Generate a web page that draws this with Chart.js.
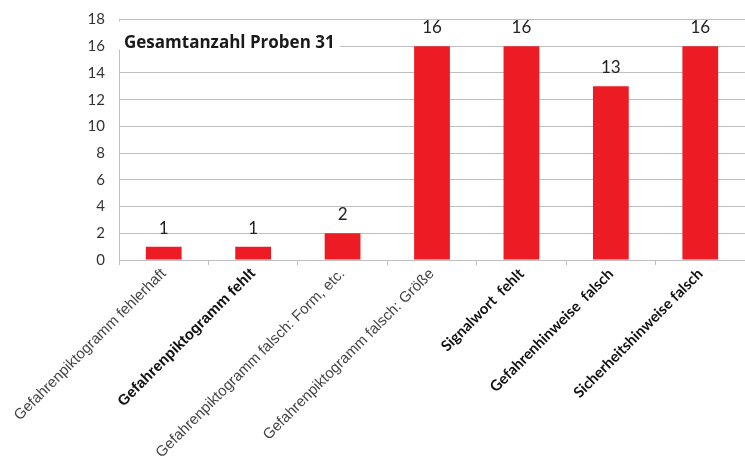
<!DOCTYPE html>
<html lang="de">
<head>
    <meta charset="UTF-8">
    <script src="https://cdn.jsdelivr.net/npm/chart.js@4.4.1/dist/chart.umd.min.js"></script>
    <title>Proben</title>
    <style>
        html, body { margin: 0; padding: 0; background: white; }
        .Chart-Container { width: 745px; height: 468px; }
    </style>
</head>
<body>
    <div class="Chart-Container">
        <canvas id="probenChart"></canvas>
    </div>
<script>
    var categories = [
        'Gefahrenpiktogramm fehlerhaft',
        'Gefahrenpiktogramm fehlt',
        'Gefahrenpiktogramm falsch: Form, etc.',
        'Gefahrenpiktogramm falsch: Größe',
        'Signalwort  fehlt',
        'Gefahrenhinweise  falsch',
        'Sicherheitshinweise falsch'
    ];
    var counts = [1, 1, 2, 16, 16, 13, 16];
    var boldLabels = [false, true, false, false, true, true, true];
    var calibriLabels = [false, false, false, false, true, true, true];
    var yTicks = [0, 2, 4, 6, 8, 10, 12, 14, 16, 18];
    var totalText = 'Gesamtanzahl Proben 31';

    var barLabels = {
        id: 'barLabels',
        afterDatasetsDraw(chart) {
            var ctx = chart.ctx;
            var meta = chart.getDatasetMeta(0);
            ctx.save();
            ctx.font = '17px Lato';
            ctx.fillStyle = '#222';
            ctx.textAlign = 'center';
            ctx.textBaseline = 'bottom';
            meta.data.forEach((bar, i) => {
                ctx.fillText(counts[i], bar.x, bar.y - 10);
            });
            ctx.restore();
        },
        afterDraw(chart) {
            var ctx = chart.ctx;
            var area = chart.chartArea;
            ctx.save();
            ctx.fillStyle = 'white';
            ctx.fillRect(area.left - 1, area.top + 2, 222, 28);
            ctx.font = 'bold 17px "Open Sans"';
            ctx.fillStyle = '#1a1a1a';
            ctx.textBaseline = 'middle';
            ctx.fillText(totalText, area.left + 5, area.top + 24);
            ctx.restore();
        }
    };

    var ctx = document.getElementById('probenChart').getContext('2d');
    var probenChart = new Chart(ctx, {
        type: 'bar',
        data: {
            labels: categories,
            datasets: [{
                data: counts,
                backgroundColor: '#ed1c24',
                categoryPercentage: 1,
                barPercentage: 0.4
            }]
        },
        options: {
            animation: { duration: 0 },
            responsive: true,
            maintainAspectRatio: false,
            layout: { padding: { top: 19.5, right: 0, left: 0, bottom: 0 } },
            scales: {
                x: {
                    grid: {
                        drawOnChartArea: false,
                        drawTicks: true,
                        tickLength: 5,
                        color: '#bfbfbf'
                    },
                    border: { color: '#bfbfbf' },
                    ticks: {
                        minRotation: 45,
                        maxRotation: 45,
                        autoSkip: false,
                        padding: 0,
                        color: (c) => boldLabels[c.index] ? '#111' : '#444',
                        font: (c) => ({
                            family: calibriLabels[c.index] ? 'Lato' : 'Liberation Sans',
                            size: 15,
                            weight: boldLabels[c.index] ? 'bold' : 'normal'
                        })
                    },
                    afterFit: (scale) => { scale.height = 208; }
                },
                y: {
                    min: 0,
                    max: 18,
                    afterBuildTicks: (scale) => { scale.ticks = yTicks.map(v => ({ value: v })); },
                    grid: { color: '#bfbfbf', drawTicks: false },
                    border: { color: '#bfbfbf' },
                    ticks: {
                        padding: 14,
                        color: '#333',
                        font: { family: 'Lato', size: 15 }
                    },
                    afterFit: (scale) => {
                        scale.width = 119;
                        scale.paddingTop = 0;
                        scale.paddingBottom = 0;
                    }
                }
            },
            plugins: {
                legend: { display: false },
                tooltip: { enabled: false }
            }
        },
        plugins: [barLabels]
    });
</script>
</body>
</html>
